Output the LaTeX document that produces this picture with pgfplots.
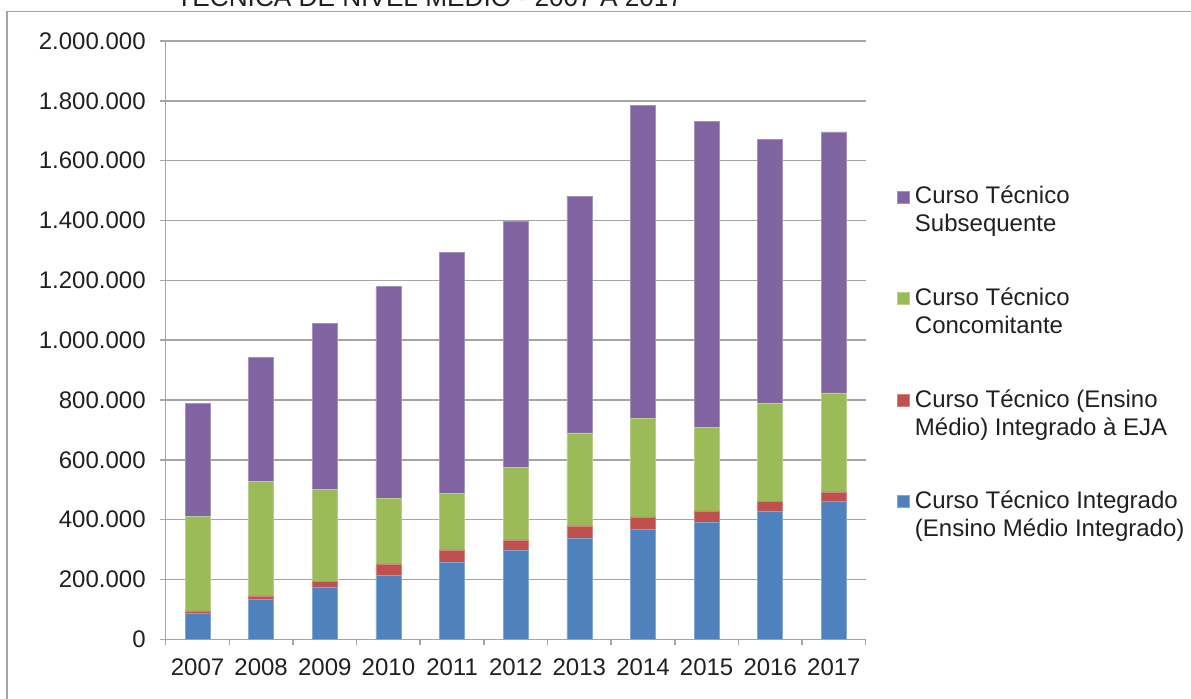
\documentclass[border=0pt]{standalone}
\usepackage{pgfplots}
\pgfplotsset{compat=1.18}
\usepackage{pgfplotstable}
\usepackage{fontspec}
\setmainfont{Liberation Sans}
\definecolor{cblue}{HTML}{4F81BD}
\definecolor{cred}{HTML}{C0504D}
\definecolor{cgreen}{HTML}{9BBB59}
\definecolor{cpurple}{HTML}{8064A2}
\definecolor{gridgray}{RGB}{165,165,165}
\definecolor{txt}{RGB}{35,31,32}
\pgfplotstableread{
x year integrado eja concomitante subsequente
0 2007 86000 9000 317000 377000
1 2008 133000 12000 382000 416000
2 2009 175000 19000 308000 555000
3 2010 214000 38000 218000 709000
4 2011 256000 43000 188000 807000
5 2012 298000 34000 242000 824000
6 2013 339000 40000 311000 791000
7 2014 367000 42000 329000 1046000
8 2015 392000 37000 280000 1022000
9 2016 429000 31000 330000 881000
10 2017 460000 33000 331000 872000
}\datatable
\begin{document}
\begin{tikzpicture}[font=\fontsize{12}{14}\selectfont,text=txt]
\useasboundingbox (0pt,0pt) rectangle (595.5pt,-349pt);
\draw[color=gridgray,line width=0.6pt] (3.5pt,-400pt) -- (3.5pt,-5.85pt) -- (700pt,-5.85pt);
\node[anchor=base west,inner sep=0pt,font=\fontsize{13.1}{15}\selectfont] at (88pt,-3pt) {TÉCNICA DE NÍVEL MÉDIO - 2007 A 2017};
\begin{axis}[
  at={(82.85pt,-319.65pt)}, anchor=south west,
  scale only axis, width=350pt, height=299.15pt,
  ymin=0, ymax=2000000,
  xmin=-0.5, xmax=10.5,
  stack plots=y,
  axis lines*=left,
  axis line style={color=gridgray,line width=0.75pt},
  ymajorgrids, grid style={color=gridgray,line width=0.75pt},
  ytick={0,200000,...,2000000},
  scaled y ticks=false,
  yticklabel style={xshift=-3.5pt,/pgf/number format/.cd,fixed,1000 sep={.},assume math mode=true},
  xticklabel style={yshift=-3pt},
  xtick={-0.5,0.5,1.5,2.5,3.5,4.5,5.5,6.5,7.5,8.5,9.5,10.5},
  x tick label as interval,
  xticklabels={2007,2008,2009,2010,2011,2012,2013,2014,2015,2016,2017},
  tick align=outside,
  major tick length=3pt,
  tick style={color=gridgray,line width=0.75pt},
  tick label style={font=\fontsize{12}{14}\selectfont},
  ybar stacked, bar width=0.393,
  reverse legend,
  legend style={at={(1.0361,0.768)},anchor=north west,draw=none,fill=none,
    row sep=39.5pt,nodes={inner sep=0pt},cells={anchor=base west},
    /tikz/every odd column/.append style={column sep=2.5pt},
    font=\fontsize{12}{14}\selectfont},
  legend image code/.code={\fill[#1] (0pt,0.5pt) rectangle (6pt,6.5pt);},
]
\addplot[fill=cblue,draw=cblue!70!white,line width=0.3pt] table[x=x,y=integrado]{\datatable};
\addlegendentry{\begin{tabular}[t]{@{}l@{}}Curso Técnico Integrado\\(Ensino Médio Integrado)\end{tabular}}
\addplot[fill=cred,draw=cred!70!white,line width=0.3pt] table[x=x,y=eja]{\datatable};
\addlegendentry{\begin{tabular}[t]{@{}l@{}}Curso Técnico (Ensino\\Médio) Integrado à EJA\end{tabular}}
\addplot[fill=cgreen,draw=cgreen!70!white,line width=0.3pt] table[x=x,y=concomitante]{\datatable};
\addlegendentry{\begin{tabular}[t]{@{}l@{}}Curso Técnico\\Concomitante\end{tabular}}
\addplot[fill=cpurple,draw=cpurple!70!white,line width=0.3pt] table[x=x,y=subsequente]{\datatable};
\addlegendentry{\begin{tabular}[t]{@{}l@{}}Curso Técnico\\Subsequente\end{tabular}}
\end{axis}
\end{tikzpicture}
\end{document}
